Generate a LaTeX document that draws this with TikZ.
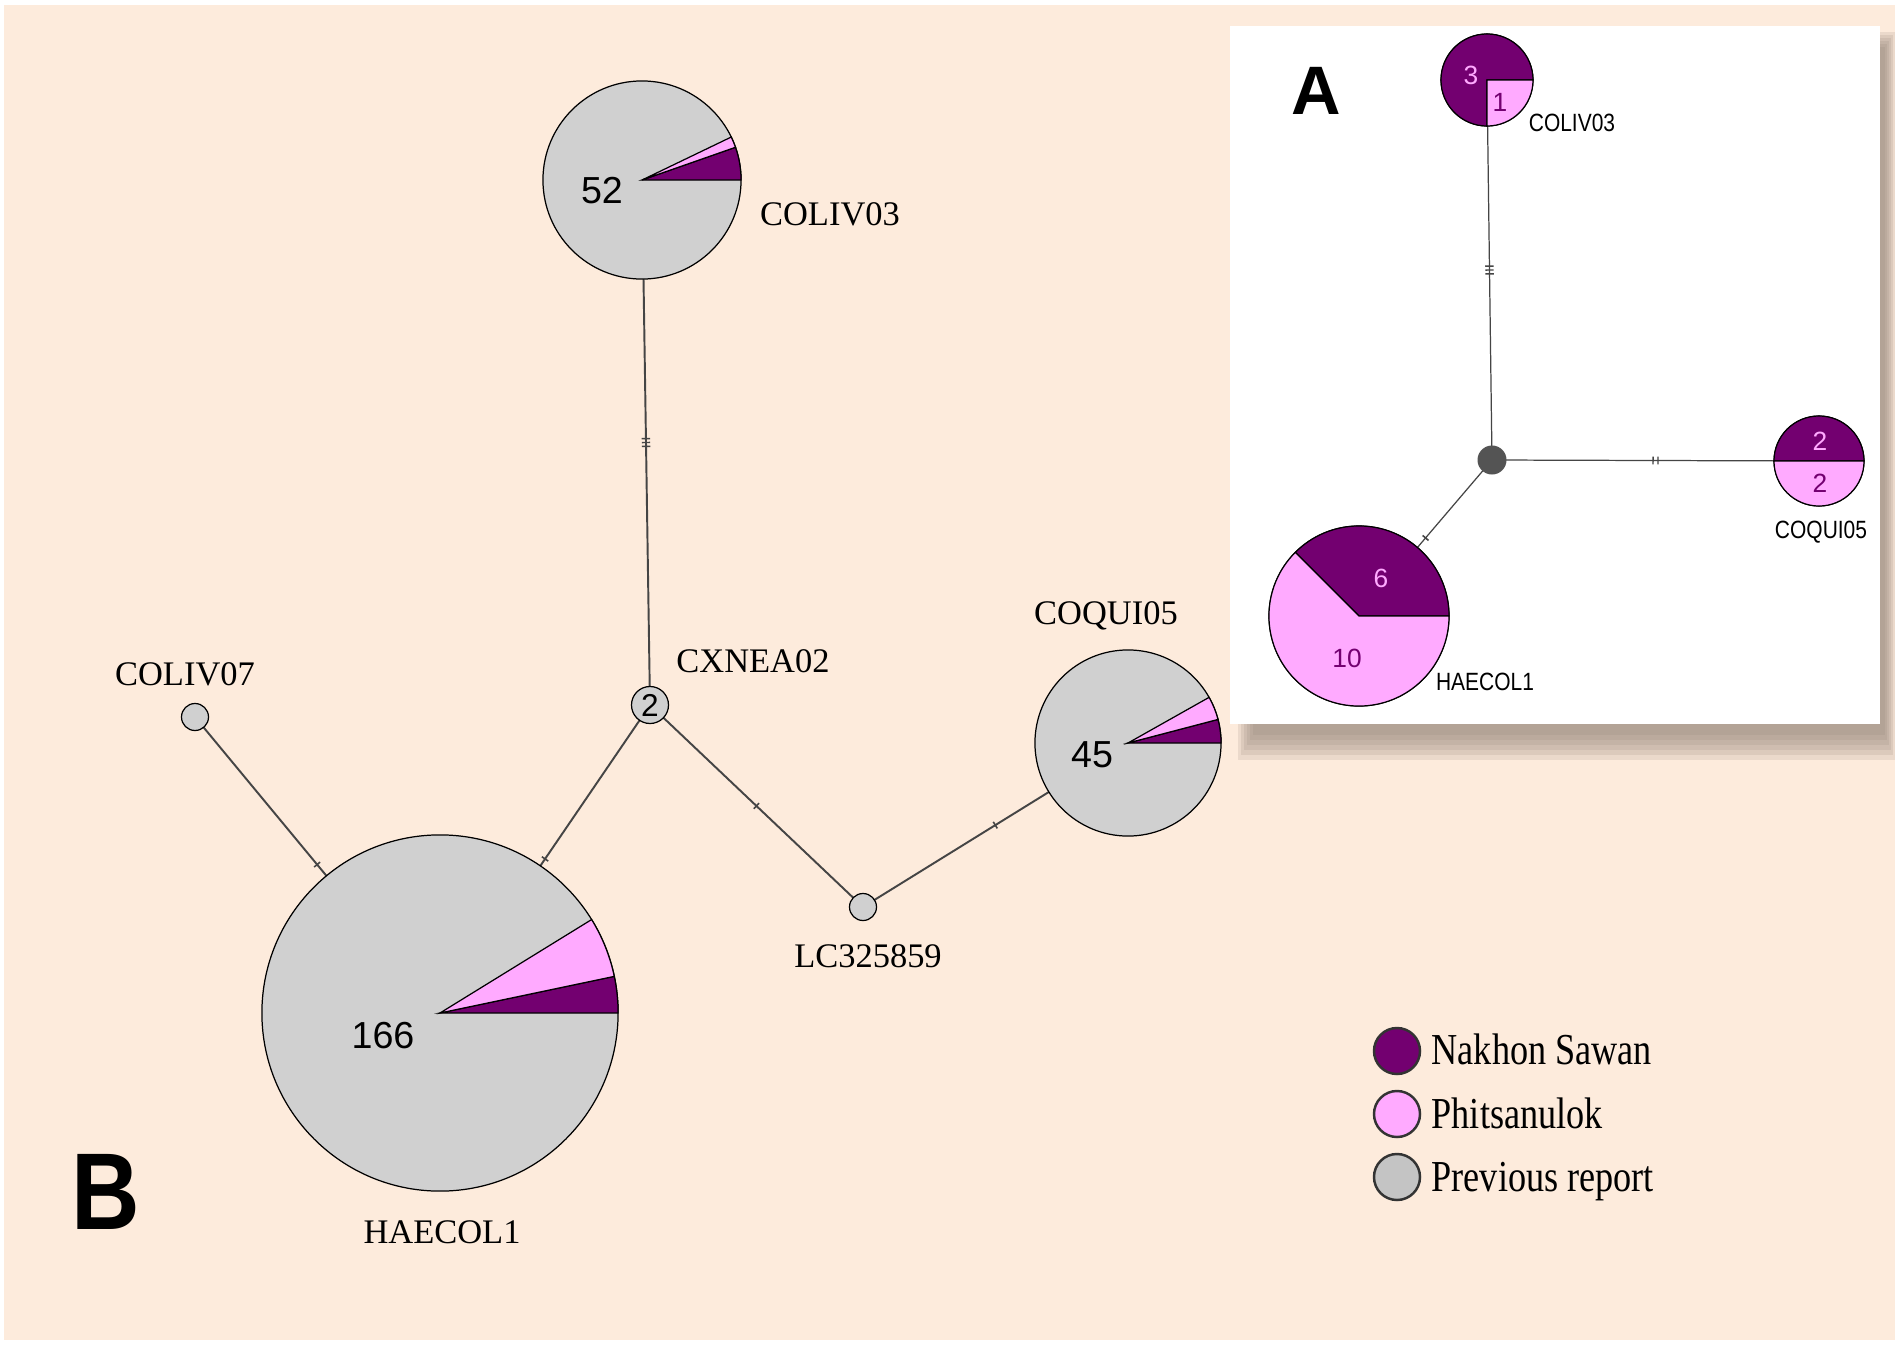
\documentclass[tikz,border=0pt]{standalone}
\usepackage{fontspec}
\setmainfont{Liberation Serif}
\setsansfont{Liberation Sans}
\newfontfamily\narrowsf[FakeStretch=0.84]{Liberation Sans}
\usepackage{tikz}
\usetikzlibrary{backgrounds,decorations.markings}
\definecolor{peach}{HTML}{FDEBDC}
\definecolor{nsawan}{HTML}{730070}
\definecolor{phitsa}{HTML}{FFAAFF}
\definecolor{prevrep}{HTML}{D0D0D0}
\definecolor{keygray}{HTML}{C4C4C4}
\definecolor{edgegray}{HTML}{454545}
\definecolor{hubgray}{HTML}{545454}
\definecolor{shadowc}{HTML}{8F7F73}

% pie slice: node, radius, from, to, colour
\newcommand{\pieslice}[5]{\filldraw[fill=#5,draw=black,line width=0.35pt] (#1.center) -- ++(#3:#2) arc[start angle=#3,end angle=#4,radius=#2] -- cycle;}

\begin{document}
\begin{tikzpicture}[x=0.01cm,y=-0.01cm,
			hap/.style={circle,draw=black,line width=0.35pt,fill=prevrep,inner sep=0pt},
			hapA/.style={circle,draw=black,line width=0.3pt,inner sep=0pt},
			lbl/.style={font=\fontsize{9.8}{12}\selectfont,anchor=base,inner sep=0pt},
			lblA/.style={font=\narrowsf\fontsize{7.1}{8}\selectfont,anchor=base,inner sep=0pt},
			num/.style={font=\sffamily\fontsize{10.7}{12}\selectfont,anchor=base,inner sep=0pt},
			numA/.style={font=\sffamily\fontsize{7.5}{9}\selectfont,inner sep=0pt},
			keytxt/.style={font=\fontsize{10.3}{12}\selectfont,anchor=base west,inner sep=0pt},
			key/.style={circle,draw=black!80,line width=0.7pt,minimum size=0.46cm,inner sep=0pt},
			link/.style={draw=edgegray,line width=0.55pt},
			linkA/.style={draw=edgegray,line width=0.35pt},
			onetick/.style={postaction={decorate,decoration={markings,mark=at position 0.5 with {\draw[edgegray,line width=0.45pt] (0pt,-1.1pt) -- (0pt,1.1pt);}}}},
			twotick/.style={postaction={decorate,decoration={markings,mark=at position 0.5 with {\draw[edgegray,line width=0.4pt] (-0.7pt,-1.1pt) -- (-0.7pt,1.1pt) (0.7pt,-1.1pt) -- (0.7pt,1.1pt);}}}},
			threetick/.style={postaction={decorate,decoration={markings,mark=at position 0.5 with {\draw[edgegray,line width=0.4pt] (-1.1pt,-1.2pt) -- (-1.1pt,1.2pt) (0pt,-1.2pt) -- (0pt,1.2pt) (1.1pt,-1.2pt) -- (1.1pt,1.2pt);}}}}
			]
			\useasboundingbox (0,0) rectangle (1899,1345);

			% network B
			\node[hap,minimum size=1.98cm] (colivB) at (642,180) {};
			\pieslice{colivB}{0.99cm}{0}{19.29}{nsawan}
			\pieslice{colivB}{0.99cm}{19.29}{25.71}{phitsa}
			\node[num] (colivBnum) at (602,203) {52};
			\node[hap,minimum size=3.56cm] (haecolB) at (440,1013) {};
			\pieslice{haecolB}{1.78cm}{0}{11.87}{nsawan}
			\pieslice{haecolB}{1.78cm}{11.87}{31.65}{phitsa}
			\node[num] (haecolBnum) at (383,1048) {166};
			\node[hap,minimum size=1.86cm] (coquiB) at (1128,743) {};
			\pieslice{coquiB}{0.93cm}{0}{14.69}{nsawan}
			\pieslice{coquiB}{0.93cm}{14.69}{29.39}{phitsa}
			\node[num] (coquiBnum) at (1092,767) {45};
			\node[hap,minimum size=0.37cm,font=\sffamily\fontsize{9}{9}\selectfont] (cxnea) at (650,705) {2};
			\node[hap,minimum size=0.27cm] (coliv07) at (195,717) {};
			\node[hap,minimum size=0.27cm] (lc325) at (863,907) {};

			\node[lbl] (colivBlbl) at (830,225) {COLIV03};
			\node[lbl] (haecolBlbl) at (442,1243) {HAECOL1};
			\node[lbl] (coquiBlbl) at (1106,624) {COQUI05};
			\node[lbl] (cxnealbl) at (753,672) {CXNEA02};
			\node[lbl] (coliv07lbl) at (185,685) {COLIV07};
			\node[lbl] (lc325lbl) at (868,967) {LC325859};
			\node[font=\sffamily\bfseries\fontsize{27}{27}\selectfont] (panelB) at (106,1192) {\scalebox{1}[1.15]{B}};

			% legend
			\node[key,fill=nsawan] (keyNS) at (1397,1051) {};
			\node[key,fill=phitsa] (keyPh) at (1397,1114) {};
			\node[key,fill=keygray] (keyPr) at (1397,1177) {};
			\node[keytxt] (keyNStxt) at (1431,1064) {\scalebox{1}[1.22]{Nakhon Sawan}};
			\node[keytxt] (keyPhtxt) at (1431,1128) {\scalebox{1}[1.22]{Phitsanulok}};
			\node[keytxt] (keyPrtxt) at (1431,1191) {\scalebox{1}[1.22]{Previous report}};

			% network A (inset)
			\node[circle,fill=hubgray,minimum size=0.29cm,inner sep=0pt] (hubA) at (1492,460) {};
			\node[hapA,minimum size=0.92cm] (colivA) at (1487,80) {};
			\pieslice{colivA}{0.46cm}{0}{270}{nsawan}
			\pieslice{colivA}{0.46cm}{270}{360}{phitsa}
			\node[hapA,minimum size=0.9cm] (coquiA) at (1819,461) {};
			\pieslice{coquiA}{0.45cm}{0}{180}{nsawan}
			\pieslice{coquiA}{0.45cm}{180}{360}{phitsa}
			\node[hapA,minimum size=1.8cm] (haecolA) at (1359,616) {};
			\pieslice{haecolA}{0.9cm}{0}{135}{nsawan}
			\pieslice{haecolA}{0.9cm}{135}{360}{phitsa}
			\node[numA,text=phitsa] (colivAn1) at (1471,75) {3};
			\node[numA,text=nsawan] (colivAn2) at (1500,102) {1};
			\node[numA,text=phitsa] (coquiAn1) at (1820,441) {2};
			\node[numA,text=nsawan] (coquiAn2) at (1820,483) {2};
			\node[numA,text=phitsa] (haecolAn1) at (1381,578) {6};
			\node[numA,text=nsawan] (haecolAn2) at (1347,658) {10};
			\node[lblA] (colivAlbl) at (1572,131) {COLIV03};
			\node[lblA] (coquiAlbl) at (1821,538) {COQUI05};
			\node[lblA] (haecolAlbl) at (1485,690) {HAECOL1};
			\node[font=\sffamily\bfseries\fontsize{19.5}{20}\selectfont] (panelA) at (1316,91) {A};

			\begin{scope}[on background layer]
				\fill[white] (0,0) rectangle (1899,1345);
				\fill[peach] (4,5) rectangle (1895,1340);
				\foreach \k in {0,...,5}
					\fill[shadowc,opacity=0.16] (1238+3*\k,32+3*\k) rectangle (1895-2*\k,760-5*\k);
				\fill[white] (1230,26) rectangle (1880,724);
				% connectors B
				\draw[link,threetick] (colivB.center) -- (cxnea.center);
				\draw[link,onetick] (cxnea.center) -- (haecolB.center);
				\draw[link,onetick] (coliv07.center) -- (haecolB.center);
				\draw[link,onetick] (cxnea.center) -- (lc325.center);
				\draw[link,onetick] (lc325.center) -- (coquiB.center);
				% connectors A
				\draw[linkA,threetick] (hubA.center) -- (colivA.center);
				\draw[linkA,twotick] (hubA.center) -- (coquiA.center);
				\draw[linkA,onetick] (hubA.center) -- (haecolA.center);
			\end{scope}
		\end{tikzpicture}
\end{document}
